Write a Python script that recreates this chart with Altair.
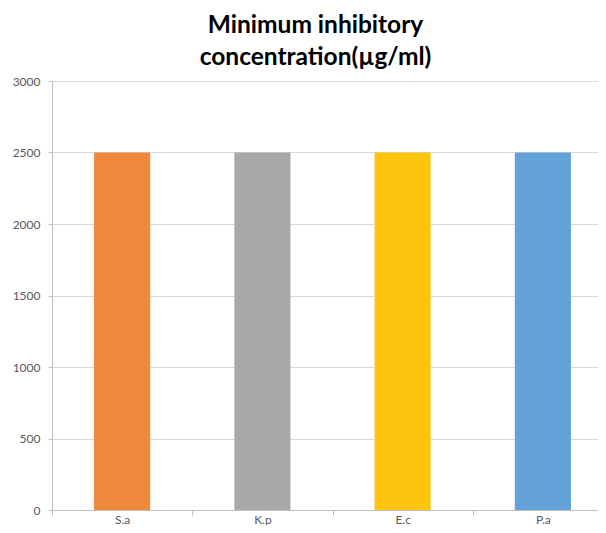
import altair as alt
import pandas as pd

categories = ["S.a", "K.p", "E.c", "P.a"]
values = [2500, 2500, 2500, 2500]
colors = ["#F0883B", "#A8A8A8", "#FEC50F", "#63A2D8"]
y_ticks = [0, 500, 1000, 1500, 2000, 2500, 3000]

df = pd.DataFrame({"cat": categories, "val": values})

chart = alt.Chart(df).mark_bar(width=alt.RelativeBandSize(0.4)).encode(
    x=alt.X("cat:N", sort=categories, title=None,
            scale=alt.Scale(paddingInner=0, paddingOuter=0),
            axis=alt.Axis(labelAngle=0, tickBand="extent", tickSize=5,
                          labelPadding=-1, domainColor="#BFBFBF", tickColor="#BFBFBF",
                          labelColor="#595959", labelFont="Lato", labelFontSize=12,
                          grid=False)),
    y=alt.Y("val:Q", title=None,
            scale=alt.Scale(domain=[0, 3000], nice=False),
            axis=alt.Axis(values=y_ticks, format="d", tickSize=4, labelPadding=8,
                          domainColor="#BFBFBF", tickColor="#BFBFBF",
                          gridColor="#D9D9D9", labelColor="#595959",
                          labelFont="Lato", labelFontSize=12)),
    color=alt.Color("cat:N", sort=categories,
                    scale=alt.Scale(domain=categories, range=colors), legend=None),
).properties(
    width=561,
    height=429,
    title=alt.TitleParams(
        text=["Minimum inhibitory", "concentration(µg/ml)"],
        font="Lato", fontSize=24.5, fontWeight="bold", color="#000000",
        lineHeight=32, anchor="middle", dx=-17, offset=5,
    ),
    autosize=alt.AutoSizeParams(type="none"),
    padding={"left": 44, "top": 73, "right": -15, "bottom": 15},
).configure_view(stroke=None)

chart.save("out.html", embed_options={"renderer": "svg", "actions": False})
